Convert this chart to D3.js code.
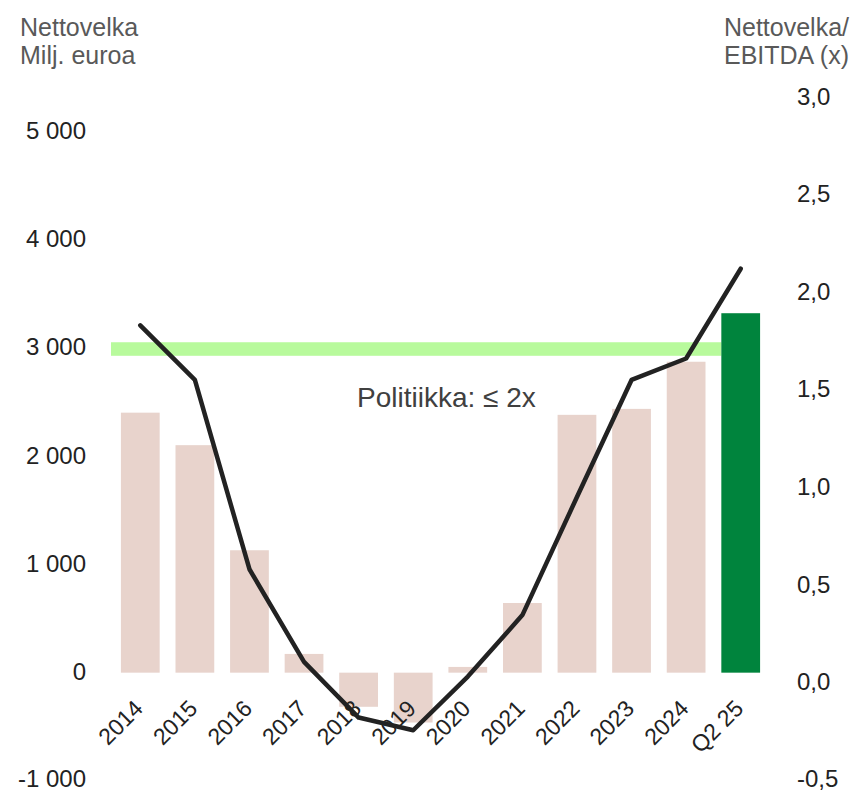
<!DOCTYPE html>
<meta charset="utf-8">
<style>
    body { margin: 0; background: #fff; }
    text { font-family: "Liberation Sans", Arial, sans-serif; }
    .tick-lbl { font-size: 24px; fill: #222; }
    .cat-lbl { font-size: 23px; fill: #222; }
    .title { font-size: 25px; fill: #595959; }
</style>
<svg width="856" height="791"></svg>
<script src="https://d3js.org/d3.v7.min.js"></script>
<script>
    // data
    var categories = ["2014", "2015", "2016", "2017", "2018", "2019", "2020", "2021", "2022", "2023", "2024", "Q2 25"];
    var netDebt = [2400, 2100, 1130, 173, -315, -460, 53, 643, 2380, 2435, 2870, 3318];   // Milj. euroa
    var leverage = [1.83, 1.55, 0.58, 0.105, -0.18, -0.245, 0.03, 0.345, 0.95, 1.55, 1.66, 2.12]; // x
    var leftTicks = [-1000, 0, 1000, 2000, 3000, 4000, 5000];
    var rightTicks = [-0.5, 0, 0.5, 1, 1.5, 2, 2.5, 3];
    var policyBand = [2925, 3050];
    var policyLabel = "Politiikka: ≤ 2x";

    var svg = d3.select("svg");

    var x = d3.scaleBand().domain(categories).range([113, 768]).paddingInner(0.29).paddingOuter(0.145);
    var yL = d3.scaleLinear().domain([-1000, 5000]).range([781, 131]);
    var yR = d3.scaleLinear().domain([-0.5, 3]).range([780, 97]);

    var fmtL = function(d) { return d3.format(",")(d).replace(/,/g, " ").replace("−", "-"); };
    var fmtR = function(d) { return d3.format(".1f")(d).replace(".", ",").replace("−", "-"); };

    // policy band
    svg.append("rect")
        .attr("x", 111)
        .attr("width", x("Q2 25") - 111)
        .attr("y", yL(policyBand[1]))
        .attr("height", yL(policyBand[0]) - yL(policyBand[1]))
        .attr("fill", "#b8fa9c");

    // bars
    svg.selectAll("rect.bar")
        .data(netDebt)
        .enter().append("rect")
        .attr("class", "bar")
        .attr("x", function(d, i) { return x(categories[i]); })
        .attr("width", x.bandwidth())
        .attr("y", function(d) { return yL(Math.max(0, d)); })
        .attr("height", function(d) { return Math.abs(yL(d) - yL(0)); })
        .attr("fill", function(d, i) { return i === categories.length - 1 ? "#00843d" : "#e8d3cc"; });

    // ratio line
    var line = d3.line()
        .x(function(d, i) { return x(categories[i]) + x.bandwidth() / 2; })
        .y(function(d) { return yR(d); });

    svg.append("path")
        .datum(leverage)
        .attr("d", line)
        .attr("fill", "none")
        .attr("stroke", "#222")
        .attr("stroke-width", 4.5)
        .attr("stroke-linejoin", "round")
        .attr("stroke-linecap", "round");

    // left axis labels
    svg.selectAll("text.l")
        .data(leftTicks)
        .enter().append("text")
        .attr("class", "tick-lbl")
        .attr("x", 86)
        .attr("y", function(d) { return Math.min(yL(d), 779); })
        .attr("dy", "0.32em")
        .attr("text-anchor", "end")
        .text(fmtL);

    // right axis labels
    svg.selectAll("text.r")
        .data(rightTicks)
        .enter().append("text")
        .attr("class", "tick-lbl")
        .attr("x", 797)
        .attr("y", function(d) { return Math.min(yR(d), 779); })
        .attr("dy", "0.32em")
        .text(fmtR);

    // category labels
    svg.selectAll("text.c")
        .data(categories)
        .enter().append("text")
        .attr("class", "cat-lbl")
        .attr("text-anchor", "end")
        .attr("transform", function(d) {
            return "translate(" + (x(d) + x.bandwidth() / 2 + 4) + ",710) rotate(-45)";
        })
        .text(function(d) { return d; });

    // titles
    svg.append("text").attr("class", "title").attr("x", 20).attr("y", 36).text("Nettovelka");
    svg.append("text").attr("class", "title").attr("x", 20).attr("y", 64).text("Milj. euroa");
    svg.append("text").attr("class", "title").attr("x", 849).attr("y", 36).attr("text-anchor", "end").text("Nettovelka/");
    svg.append("text").attr("class", "title").attr("x", 849).attr("y", 64).attr("text-anchor", "end").text("EBITDA (x)");

    svg.append("text")
        .attr("x", 357)
        .attr("y", 407)
        .attr("font-size", 28)
        .attr("fill", "#404040")
        .text(policyLabel);
</script>
